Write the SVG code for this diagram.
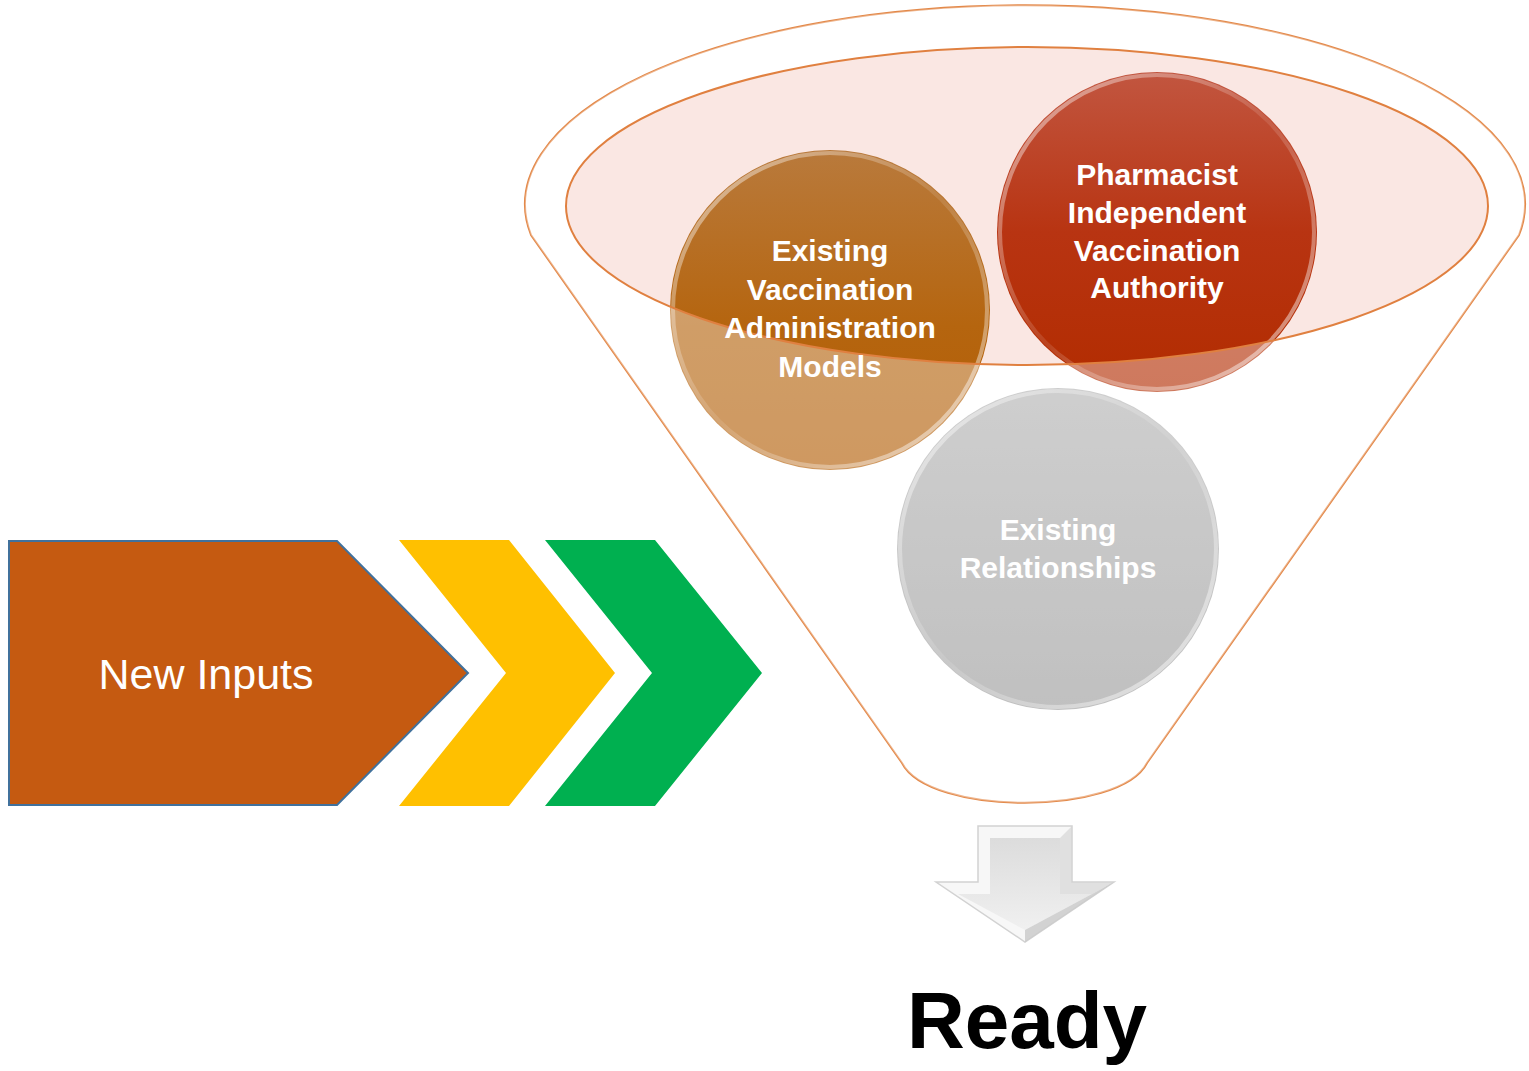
<svg xmlns="http://www.w3.org/2000/svg" width="1529" height="1071" viewBox="0 0 1529 1071">
<style>
.lbl{font-family:"Liberation Sans",Arial,sans-serif;font-weight:bold;font-size:30px;fill:#ffffff;text-anchor:middle}
.funnel{fill:#ffffff;stroke:#e3894a;stroke-width:2}
.rim{fill:none;stroke:#e08040;stroke-width:2}
.bevel{fill:none;stroke-width:4}
</style>
<defs>
<linearGradient id="gOr" x1="0" y1="0" x2="0" y2="1">
<stop offset="0" stop-color="#b97a3c"/>
<stop offset="0.55" stop-color="#b5650f"/>
<stop offset="1" stop-color="#b35d05"/>
</linearGradient>
<linearGradient id="gRd" x1="0" y1="0" x2="0" y2="1">
<stop offset="0" stop-color="#c25640"/>
<stop offset="0.5" stop-color="#b83412"/>
<stop offset="1" stop-color="#b22c00"/>
</linearGradient>
<linearGradient id="gGy" x1="0" y1="0" x2="0" y2="1">
<stop offset="0" stop-color="#b2b2b2"/>
<stop offset="1" stop-color="#9c9c9c"/>
</linearGradient>
<linearGradient id="gRim" x1="0" y1="0" x2="1" y2="1">
<stop offset="0" stop-color="#ffffff" stop-opacity="0.55"/>
<stop offset="0.5" stop-color="#ffffff" stop-opacity="0.1"/>
<stop offset="1" stop-color="#ffffff" stop-opacity="0.6"/>
</linearGradient>
<linearGradient id="gArrow" x1="0" y1="0" x2="0" y2="1">
<stop offset="0" stop-color="#dcdcdc"/>
<stop offset="1" stop-color="#f0f0f0"/>
</linearGradient>
</defs>

<g id="funnel">
<path class="funnel" d="M 531,235 A 500 199 0 1 1 1519,235 L 1147,763 C 1120,816 929,816 902,763 Z"/>
<path d="M 566,206 A 461 159 0 1 1 1488,206 A 461 159 0 1 1 566,206 Z" fill="#fae7e3"/>
</g>

<g id="node-existing-models">
<circle cx="830" cy="310" r="160" fill="url(#gOr)"/>
<circle cx="830" cy="310" r="157" class="bevel" stroke="url(#gRim)"/>
</g>

<g id="node-pharmacist">
<circle cx="1157" cy="232" r="160" fill="url(#gRd)"/>
<circle cx="1157" cy="232" r="157" class="bevel" stroke="url(#gRim)"/>
</g>

<g id="node-relationships">
<circle cx="1058" cy="549" r="161" fill="url(#gGy)"/>
<circle cx="1058" cy="549" r="158" class="bevel" stroke="url(#gRim)"/>
</g>

<g id="funnel-overlay">
<path fill="#ffffff" fill-opacity="0.37" fill-rule="evenodd" d="M 531,235 A 500 199 0 1 1 1519,235 L 1147,763 C 1120,816 929,816 902,763 Z M 566,206 A 461 159 0 1 1 1488,206 A 461 159 0 1 1 566,206 Z"/>
<path class="rim" d="M 566,206 A 461 159 0 1 1 1488,206 A 461 159 0 1 1 566,206 Z"/>
</g>

<g id="labels">
<text class="lbl" x="830" y="261">Existing</text>
<text class="lbl" x="830" y="300">Vaccination</text>
<text class="lbl" x="830" y="338">Administration</text>
<text class="lbl" x="830" y="377">Models</text>
<text class="lbl" x="1157" y="185">Pharmacist</text>
<text class="lbl" x="1157" y="223">Independent</text>
<text class="lbl" x="1157" y="261">Vaccination</text>
<text class="lbl" x="1157" y="298">Authority</text>
<text class="lbl" x="1058" y="540" fill="#f4f4f4">Existing</text>
<text class="lbl" x="1058" y="578" fill="#f4f4f4">Relationships</text>
</g>

<g id="node-new-inputs">
<path d="M 9,541 L 337,541 L 468,673 L 337,805 L 9,805 Z" fill="#c55a11" stroke="#41719c" stroke-width="2"/>
<text x="206" y="689" font-family="'Liberation Sans',Arial,sans-serif" font-size="43" fill="#ffffff" text-anchor="middle">New Inputs</text>
</g>

<g id="chevron-yellow">
<path d="M 399,540 L 509,540 L 615,673 L 509,806 L 399,806 L 506,673 Z" fill="#ffc000"/>
</g>

<g id="chevron-green">
<path d="M 545,540 L 655,540 L 762,673 L 655,806 L 545,806 L 652,673 Z" fill="#00b050"/>
</g>

<g id="down-arrow">
<path d="M 978,826 L 1072,826 L 1072,882 L 1114,882 L 1025,942 L 936,882 L 978,882 Z" fill="#f7f7f7" stroke="#d2d2d2" stroke-width="1.5"/>
<path d="M 990,838 L 1060,838 L 1060,894 L 1092,894 L 1025,930 L 958,894 L 990,894 Z" fill="url(#gArrow)"/>
<path d="M 1060,838 L 1072,826 L 1072,882 L 1114,882 L 1092,894 L 1060,894 Z" fill="#d6d6d6" opacity="0.7"/>
<path d="M 1092,894 L 1114,882 L 1025,942 L 1025,930 Z" fill="#c8c8c8" opacity="0.8"/>
</g>

<g id="ready">
<text x="1027" y="1048" font-family="'Liberation Sans',Arial,sans-serif" font-weight="bold" font-size="80" fill="#000000" text-anchor="middle">Ready</text>
</g>

<g id="connectors"></g>
</svg>
